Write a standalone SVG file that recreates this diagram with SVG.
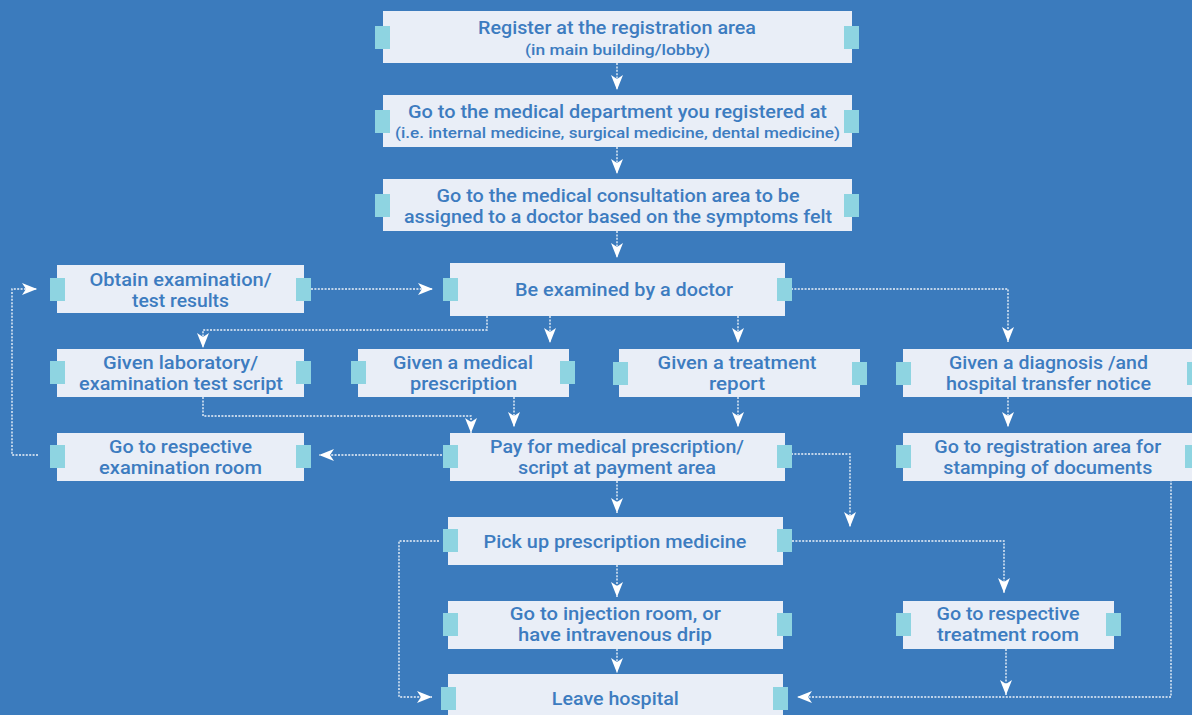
<svg xmlns="http://www.w3.org/2000/svg" width="1192" height="715" viewBox="0 0 1192 715">
<style>
.bg{fill:#3b7bbd}
.box{fill:#e9eef7}
.tab{fill:#8ed4e1}
.t{font-family:Roboto,"Liberation Sans",sans-serif;font-weight:500;font-size:17.5px;fill:#3d7cc0;text-anchor:middle}
.s{font-size:14px}
.c{fill:none;stroke:#ffffff;stroke-opacity:0.9;stroke-width:1.4;stroke-dasharray:2 1.4}
</style>
<defs>
<marker id="arr" markerUnits="userSpaceOnUse" markerWidth="16" markerHeight="14" viewBox="0 0 16 14" refX="15" refY="6" orient="auto">
<path d="M15,6 L0,0 L4,6 L0,12 Z" fill="#ffffff"/>
</marker>
</defs>
<rect class="bg" x="0" y="0" width="1192" height="715"/>

<g id="connectors">
<path class="c" marker-end="url(#arr)" d="M617,63 V90"/>
<path class="c" marker-end="url(#arr)" d="M617,147 V174"/>
<path class="c" marker-end="url(#arr)" d="M617,231 V258"/>
<path class="c" marker-end="url(#arr)" d="M311,289 H433"/>
<path class="c" marker-end="url(#arr)" d="M487,316 V330 H203 V348"/>
<path class="c" marker-end="url(#arr)" d="M550,316 V343"/>
<path class="c" marker-end="url(#arr)" d="M738,316 V343"/>
<path class="c" marker-end="url(#arr)" d="M791,289 H1008 V342"/>
<path class="c" marker-end="url(#arr)" d="M1008,397 V427"/>
<path class="c" marker-end="url(#arr)" d="M203,397 V416 H471 V433"/>
<path class="c" marker-end="url(#arr)" d="M514,397 V427"/>
<path class="c" marker-end="url(#arr)" d="M738,397 V427"/>
<path class="c" marker-end="url(#arr)" d="M442,455 H319"/>
<path class="c" marker-end="url(#arr)" d="M38,455 H12 V289 H37"/>
<path class="c" marker-end="url(#arr)" d="M791,454 H850 V527"/>
<path class="c" marker-end="url(#arr)" d="M617,481 V513"/>
<path class="c" marker-end="url(#arr)" d="M439,541 H399 V697 H432"/>
<path class="c" marker-end="url(#arr)" d="M792,541 H1004 V593"/>
<path class="c" marker-end="url(#arr)" d="M617,565 V597"/>
<path class="c" marker-end="url(#arr)" d="M617,649 V673"/>
<path class="c" marker-end="url(#arr)" d="M1006,649 V695"/>
<path class="c" marker-end="url(#arr)" d="M1171,476 V697 H797"/>
</g>

<g id="register">
<rect class="box" x="383" y="11" width="469" height="52"/>
<rect class="tab" x="375" y="26" width="15" height="23"/>
<rect class="tab" x="844" y="26" width="15" height="23"/>
<text class="t" x="617" y="34" textLength="278" lengthAdjust="spacingAndGlyphs">Register at the registration area</text>
<text class="t s" x="617.5" y="55" textLength="185" lengthAdjust="spacingAndGlyphs">(in main building/lobby)</text>
</g>

<g id="department">
<rect class="box" x="383" y="95" width="469" height="52"/>
<rect class="tab" x="375" y="110" width="15" height="23"/>
<rect class="tab" x="844" y="110" width="15" height="23"/>
<text class="t" x="617.5" y="118" textLength="419" lengthAdjust="spacingAndGlyphs">Go to the medical department you registered at</text>
<text class="t s" x="617.5" y="138" textLength="445" lengthAdjust="spacingAndGlyphs">(i.e. internal medicine, surgical medicine, dental medicine)</text>
</g>

<g id="consultation">
<rect class="box" x="383" y="179" width="469" height="52"/>
<rect class="tab" x="375" y="194" width="15" height="23"/>
<rect class="tab" x="844" y="194" width="15" height="23"/>
<text class="t" x="618" y="202" textLength="363" lengthAdjust="spacingAndGlyphs">Go to the medical consultation area to be</text>
<text class="t" x="618" y="223" textLength="428" lengthAdjust="spacingAndGlyphs">assigned to a doctor based on the symptoms felt</text>
</g>

<g id="examined">
<rect class="box" x="450" y="263" width="335" height="53"/>
<rect class="tab" x="443" y="278" width="15" height="23"/>
<rect class="tab" x="777" y="278" width="15" height="23"/>
<text class="t" x="624" y="296" textLength="218" lengthAdjust="spacingAndGlyphs">Be examined by a doctor</text>
</g>

<g id="results">
<rect class="box" x="57" y="265" width="247" height="48"/>
<rect class="tab" x="50" y="278" width="15" height="23"/>
<rect class="tab" x="296" y="278" width="15" height="23"/>
<text class="t" x="180.5" y="286" textLength="182" lengthAdjust="spacingAndGlyphs">Obtain examination/</text>
<text class="t" x="180.5" y="307" textLength="97" lengthAdjust="spacingAndGlyphs">test results</text>
</g>

<g id="labscript">
<rect class="box" x="57" y="349" width="247" height="48"/>
<rect class="tab" x="50" y="361" width="15" height="23"/>
<rect class="tab" x="296" y="361" width="15" height="23"/>
<text class="t" x="180.5" y="369" textLength="155" lengthAdjust="spacingAndGlyphs">Given laboratory/</text>
<text class="t" x="181" y="390" textLength="204" lengthAdjust="spacingAndGlyphs">examination test script</text>
</g>

<g id="examroom">
<rect class="box" x="57" y="433" width="247" height="48"/>
<rect class="tab" x="50" y="445" width="15" height="23"/>
<rect class="tab" x="296" y="445" width="15" height="23"/>
<text class="t" x="180.5" y="453" textLength="143" lengthAdjust="spacingAndGlyphs">Go to respective</text>
<text class="t" x="180.5" y="474" textLength="163" lengthAdjust="spacingAndGlyphs">examination room</text>
</g>

<g id="prescription">
<rect class="box" x="358" y="349" width="211" height="48"/>
<rect class="tab" x="351" y="361" width="15" height="23"/>
<rect class="tab" x="560" y="361" width="15" height="23"/>
<text class="t" x="463" y="369" textLength="140" lengthAdjust="spacingAndGlyphs">Given a medical</text>
<text class="t" x="463.5" y="390" textLength="107" lengthAdjust="spacingAndGlyphs">prescription</text>
</g>

<g id="treatmentreport">
<rect class="box" x="619" y="349" width="241" height="48"/>
<rect class="tab" x="613" y="362" width="15" height="23"/>
<rect class="tab" x="852" y="362" width="15" height="23"/>
<text class="t" x="737" y="369" textLength="159" lengthAdjust="spacingAndGlyphs">Given a treatment</text>
<text class="t" x="737" y="390" textLength="56" lengthAdjust="spacingAndGlyphs">report</text>
</g>

<g id="diagnosis">
<rect class="box" x="903" y="349" width="292" height="48"/>
<rect class="tab" x="896" y="362" width="15" height="23"/>
<rect class="tab" x="1187" y="362" width="15" height="23"/>
<text class="t" x="1048.5" y="369" textLength="199" lengthAdjust="spacingAndGlyphs">Given a diagnosis /and</text>
<text class="t" x="1048.5" y="390" textLength="205" lengthAdjust="spacingAndGlyphs">hospital transfer notice</text>
</g>

<g id="stamping">
<rect class="box" x="903" y="433" width="290" height="48"/>
<rect class="tab" x="896" y="445" width="15" height="23"/>
<rect class="tab" x="1185" y="445" width="15" height="23"/>
<text class="t" x="1047.7" y="453" textLength="227" lengthAdjust="spacingAndGlyphs">Go to registration area for</text>
<text class="t" x="1047.8" y="474" textLength="209" lengthAdjust="spacingAndGlyphs">stamping of documents</text>
</g>

<g id="payment">
<rect class="box" x="450" y="433" width="335" height="48"/>
<rect class="tab" x="443" y="445" width="15" height="23"/>
<rect class="tab" x="777" y="445" width="15" height="23"/>
<text class="t" x="617" y="453" textLength="254" lengthAdjust="spacingAndGlyphs">Pay for medical prescription/</text>
<text class="t" x="617" y="474" textLength="198" lengthAdjust="spacingAndGlyphs">script at payment area</text>
</g>

<g id="pickup">
<rect class="box" x="448" y="517" width="335" height="48"/>
<rect class="tab" x="443" y="529" width="15" height="23"/>
<rect class="tab" x="777" y="529" width="15" height="23"/>
<text class="t" x="615" y="548" textLength="263" lengthAdjust="spacingAndGlyphs">Pick up prescription medicine</text>
</g>

<g id="injection">
<rect class="box" x="448" y="601" width="335" height="48"/>
<rect class="tab" x="443" y="613" width="15" height="23"/>
<rect class="tab" x="777" y="613" width="15" height="23"/>
<text class="t" x="615.3" y="620" textLength="211" lengthAdjust="spacingAndGlyphs">Go to injection room, or</text>
<text class="t" x="615" y="641" textLength="194" lengthAdjust="spacingAndGlyphs">have intravenous drip</text>
</g>

<g id="treatmentroom">
<rect class="box" x="903" y="601" width="211" height="48"/>
<rect class="tab" x="896" y="613" width="15" height="23"/>
<rect class="tab" x="1106" y="613" width="15" height="23"/>
<text class="t" x="1008" y="620" textLength="143" lengthAdjust="spacingAndGlyphs">Go to respective</text>
<text class="t" x="1008" y="641" textLength="142" lengthAdjust="spacingAndGlyphs">treatment room</text>
</g>

<g id="leave">
<rect class="box" x="448" y="674" width="335" height="48"/>
<rect class="tab" x="441" y="687" width="15" height="23"/>
<rect class="tab" x="773" y="687" width="15" height="23"/>
<text class="t" x="615.3" y="705" textLength="127" lengthAdjust="spacingAndGlyphs">Leave hospital</text>
</g>
</svg>
